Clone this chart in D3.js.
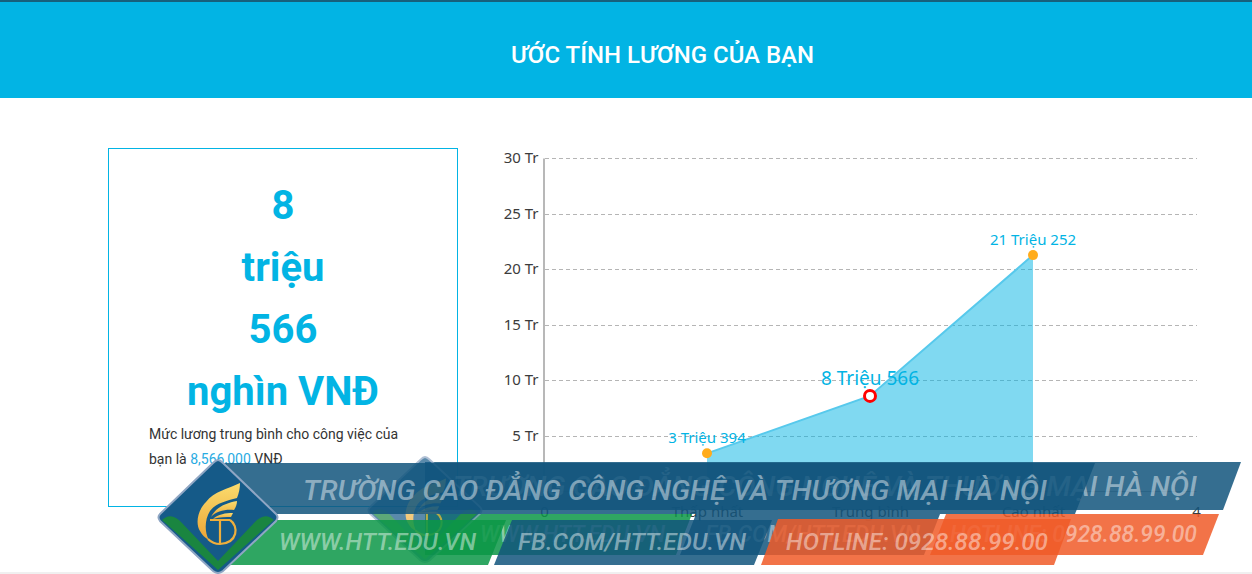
<!DOCTYPE html>
<html>
<head>
<meta charset="utf-8">
<script src="https://cdn.jsdelivr.net/npm/d3@7"></script>
<style>
  html, body { margin: 0; padding: 0; background: #fff; overflow: hidden; }
  svg { display: block; }
  .axis text { font-family: "Noto Sans", sans-serif; font-size: 15px; fill: #3c3c3c; }
</style>
</head>
<body>
<svg id="page" width="1252" height="574"></svg>
<script>
// chart values
const categories = ["0", "Thấp nhất", "Trung bình", "Cao nhất", "4"];
const salaries = [3394000, 8566000, 21252000];
const salaryLabels = ["3 Triệu 394", "8 Triệu 566", "21 Triệu 252"];
const salaryPositions = [1, 2, 3];
const yTicks = [0, 5000000, 10000000, 15000000, 20000000, 25000000, 30000000];
const bigLines = ["8", "triệu", "566", "nghìn VNĐ"];

const blue = "#02b4e4";
const svg = d3.select("#page");

// gold gradient for the logo
const goldGrad = svg.append("defs").append("linearGradient").attr("id", "gold")
    .attr("x1", 0).attr("y1", 0).attr("x2", 0).attr("y2", 1);
goldGrad.append("stop").attr("offset", "0%").attr("stop-color", "#fbdc6e");
goldGrad.append("stop").attr("offset", "100%").attr("stop-color", "#eca536");

// page furniture
svg.append("rect").attr("width", 1252).attr("height", 98).attr("fill", blue);
svg.append("rect").attr("width", 1252).attr("height", 2).attr("fill", "#17607c");
svg.append("rect").attr("y", 572).attr("width", 1252).attr("height", 2).attr("fill", "#f0f0f0");
svg.append("text").attr("x", 662.5).attr("y", 63).attr("text-anchor", "middle")
    .attr("font-family", "Roboto").attr("font-weight", 500).attr("font-size", 24).attr("fill", "#fff")
    .text("ƯỚC TÍNH LƯƠNG CỦA BẠN");

// left box
svg.append("rect").attr("x", 108.5).attr("y", 148.5).attr("width", 349).attr("height", 358)
    .attr("fill", "none").attr("stroke", blue);
svg.selectAll(".big").data(bigLines).join("text").attr("class", "big")
    .attr("x", 283).attr("y", (d, i) => 219 + i * 62)
    .attr("text-anchor", "middle").attr("font-family", "Roboto").attr("font-weight", 700)
    .attr("font-size", 40).attr("fill", blue).text(d => d);
const para = svg.append("g").attr("font-family", "Roboto").attr("font-size", 14).attr("fill", "#333");
para.append("text").attr("x", 149).attr("y", 439).text("Mức lương trung bình cho công việc của");
const para2 = para.append("text").attr("x", 149).attr("y", 464);
para2.append("tspan").text("bạn là ");
para2.append("tspan").attr("fill", "#29abe2").text("8,566,000");
para2.append("tspan").text(" VNĐ");

// chart
const x = d3.scaleLinear().domain([0, 4]).range([544, 1196]);
const y = d3.scaleLinear().domain([0, 30000000]).range([491, 158]);

const yAxis = svg.append("g").attr("class", "axis").attr("transform", "translate(543.5,0)")
    .call(d3.axisLeft(y).tickValues(yTicks).tickSize(0).tickPadding(5)
        .tickFormat(d => d === 0 ? "" : (d / 1000000) + " Tr"));
yAxis.select(".domain").attr("stroke", "#b8b8b8").attr("stroke-width", 2);

svg.append("g").selectAll("line").data(yTicks.slice(1)).join("line")
    .attr("x1", 545).attr("x2", 1197)
    .attr("y1", d => Math.round(y(d)) + 0.5).attr("y2", d => Math.round(y(d)) + 0.5)
    .attr("stroke", "#b5b5b5").attr("stroke-dasharray", "4 3");

const xAxis = svg.append("g").attr("class", "axis").attr("transform", "translate(0,491)")
    .call(d3.axisBottom(x).tickValues([0, 1, 2, 3, 4]).tickSize(0).tickPadding(15)
        .tickFormat(d => categories[d]));
xAxis.select(".domain").attr("stroke", "#b8b8b8").attr("stroke-width", 1);

const points = salaries.map((v, i) => ({ pos: salaryPositions[i], value: v, label: salaryLabels[i] }));
svg.append("path").datum(points)
    .attr("d", d3.area().x(d => x(d.pos)).y0(y(0)).y1(d => y(d.value)))
    .attr("fill", blue).attr("fill-opacity", 0.5);
svg.append("path").datum(points)
    .attr("d", d3.line().x(d => x(d.pos)).y(d => y(d.value)))
    .attr("fill", "none").attr("stroke", "#57c9ec").attr("stroke-width", 2);

svg.selectAll(".dot").data(points).join("circle").attr("class", "dot")
    .attr("cx", d => x(d.pos)).attr("cy", d => y(d.value))
    .attr("r", (d, i) => i === 1 ? 5.5 : 5)
    .attr("fill", (d, i) => i === 1 ? "#fff" : "#ffac1c")
    .attr("stroke", (d, i) => i === 1 ? "#f00" : "none")
    .attr("stroke-width", 3);
svg.selectAll(".dotLabel").data(points).join("text").attr("class", "dotLabel")
    .attr("x", d => x(d.pos)).attr("y", (d, i) => y(d.value) - (i === 1 ? 11 : 10))
    .attr("text-anchor", "middle").attr("font-family", "Noto Sans")
    .attr("font-size", (d, i) => i === 1 ? 19 : 15).attr("fill", blue)
    .text(d => d.label);

// watermark banner
function para4(g, x0, x1, x2, x3, y0, y1, fill) {
    g.append("path").attr("d", `M${x0},${y0}L${x1},${y0}L${x2},${y1}L${x3},${y1}Z`).attr("fill", fill);
}
function bannerText(g, txt, left, right, base, size) {
    g.append("text").attr("x", left).attr("y", base)
        .attr("textLength", right - left).attr("lengthAdjust", "spacingAndGlyphs")
        .attr("font-family", "Roboto").attr("font-style", "italic").attr("font-weight", 500)
        .attr("font-size", size).attr("fill", "#ffffff").attr("fill-opacity", 0.45).text(txt);
}
function logo(g, cx, cy, w, h, alpha) {
    const l = g.append("g").attr("transform", `translate(${cx},${cy}) scale(${w / 60},${h / 57})`)
        .attr("opacity", alpha);
    l.append("path").attr("d", "M0,-57Q-2,-57 -5,-54L-58,-3Q-61,0 -58,4L-5,54Q0,58 5,54L58,4Q61,0 58,-3L5,-54Q2,-57 0,-57Z")
        .attr("fill", "#155a88").attr("stroke", "#8fa6c4").attr("stroke-width", 2);
    l.append("path").attr("d", "M-56,3C-50,-3 -43,-2 -36,6L0,44L36,6C43,-2 50,-3 56,3L0,53Z").attr("fill", "#1a8540");
    // wing feathers
    l.append("path").attr("d", "M22,-34C10,-28 -4,-26 -12,-15C-20,-7 -23,6 -18,14C-16,18 -13,21 -9,23C-14,14 -13,2 -8,-6C-2,-14 8,-16 19,-19C21,-24 22,-29 22,-34Z").attr("fill", "url(#gold)");
    l.append("path").attr("d", "M19,-16C8,-14 -2,-10 -7,0C-2,-6 8,-8 16,-7C18,-10 19,-13 19,-16Z").attr("fill", "url(#gold)");
    l.append("path").attr("d", "M15,-4C8,-4 0,-3 -5,2C2,0 8,0 13,0Z").attr("fill", "url(#gold)");
    // monogram
    l.append("path").attr("d", "M-8,3L12,3M2,3L2,27M12,3C21,9 20,26 2,27C-3,27 -7,25 -10,22")
        .attr("fill", "none").attr("stroke", "#eeae3c").attr("stroke-width", 2.2);
}

// back copy first, front copy over it
const navy = "rgba(18,85,125,0.85)";
const green = "rgba(10,150,70,0.85)";
const orange = "rgba(240,90,40,0.85)";

const back = svg.append("g");
para4(back, 425, 1241, 1223, 425, 462, 510, navy);
para4(back, 425, 692, 676, 425, 514, 555, green);
para4(back, 696, 940, 924, 680, 514, 555, navy);
para4(back, 946, 1219, 1203, 930, 514, 555, orange);
logo(back, 425, 510, 57, 53, 0.7);
bannerText(back, "TRƯỜNG CAO ĐẲNG CÔNG NGHỆ VÀ THƯƠNG MẠI HÀ NỘI", 453, 1197, 496, 28);
bannerText(back, "WWW.HTT.EDU.VN", 480, 665, 542, 23);
bannerText(back, "FB.COM/HTT.EDU.VN", 705, 920, 542, 23);
bannerText(back, "HOTLINE: 0928.88.99.00", 950, 1197, 542, 23);

const front = svg.append("g");
para4(front, 218, 1095, 1075, 218, 463, 514, navy);
para4(front, 218, 506, 488, 218, 520, 565, green);
para4(front, 512, 772, 754, 494, 520, 565, navy);
para4(front, 778, 1071, 1054, 761, 519, 565, orange);
logo(front, 218, 517, 60, 57, 1);
bannerText(front, "TRƯỜNG CAO ĐẲNG CÔNG NGHỆ VÀ THƯƠNG MẠI HÀ NỘI", 303, 1047, 500, 28);
bannerText(front, "WWW.HTT.EDU.VN", 279, 476, 550, 23);
bannerText(front, "FB.COM/HTT.EDU.VN", 518, 746, 550, 23);
bannerText(front, "HOTLINE: 0928.88.99.00", 786, 1048, 550, 23);
</script>
</body>
</html>
